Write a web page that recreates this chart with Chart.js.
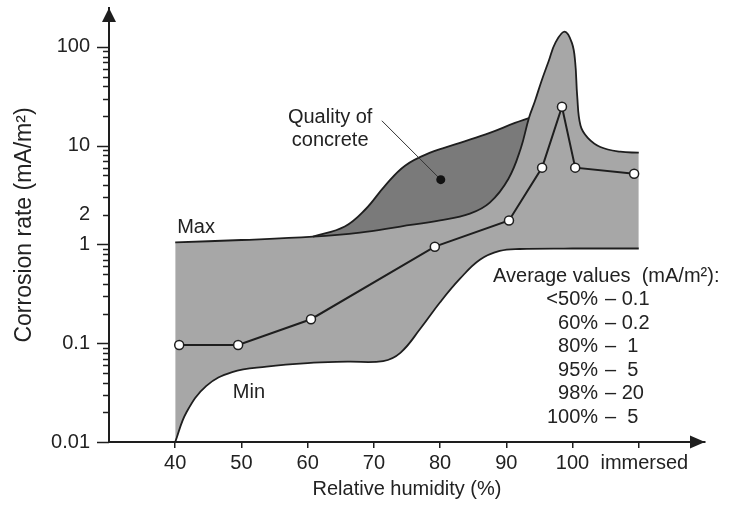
<!DOCTYPE html>
<html>
<head>
<meta charset="utf-8">
<script src="https://cdn.jsdelivr.net/npm/chart.js@4.4.1/dist/chart.umd.min.js"></script>
<style>
  html, body { margin: 0; padding: 0; background: #fff; }
  #wrap { width: 734px; height: 509px; }
</style>
</head>
<body>
<div id="wrap"><canvas id="chart" width="734" height="509"></canvas></div>
<script>
var humidityTicks = [40, 50, 60, 70, 80, 90, 100, 110];
var humidityLabels = ['40', '50', '60', '70', '80', '90', '100', '  immersed'];
var rateTicks = [0.01, 0.1, 1, 2, 10, 100];
var rateLabels = ['0.01', '0.1', '1', '2', '10', '100'];

// average values (open circles)
var avgHumidity = [40.6, 49.5, 60.5, 79.2, 90.4, 95.4, 98.4, 100.4, 109.3];
var avgRate = [0.096, 0.096, 0.175, 0.95, 1.75, 6.0, 24.8, 6.0, 5.2];

// upper envelope (Max), with the peak near saturation
var maxHumidity = [40, 50, 60.8, 67.9, 74, 80, 84.5, 87.5, 90.3, 92.2, 93.4, 94.3, 95.3, 96.4, 97.4, 98.8, 99.9, 100.4, 100.7, 101.2, 102.3, 104.2, 107.2, 110];
var maxRate = [1.05, 1.11, 1.2, 1.32, 1.52, 1.75, 2.05, 2.65, 4.6, 9.5, 19, 28, 45, 72, 110, 143, 110, 70, 32, 16, 12, 9.7, 8.7, 8.5];

// upper edge of the "quality of concrete" band
var qualityHumidity = [60.8, 65.6, 68.7, 71.7, 74.7, 78.5, 83, 87.5, 91.3, 93.4];
var qualityRate = [1.2, 1.52, 2.26, 3.95, 6.28, 8.5, 10.7, 13.5, 17, 19];

// lower envelope (Min)
var minHumidity = [40, 41.7, 44.7, 48.6, 53.8, 60, 66, 71.4, 74, 77, 80, 83, 86, 89, 92, 100, 110];
var minRate = [0.01, 0.02, 0.037, 0.051, 0.058, 0.063, 0.065, 0.066, 0.08, 0.14, 0.26, 0.45, 0.7, 0.86, 0.9, 0.91, 0.91];

var avgRows = ['<50%', '60%', '80%', '95%', '98%', '100%'];
var avgRowValues = ['\u2013 0.1', '\u2013 0.2', '\u2013  1', '\u2013  5', '\u2013 20', '\u2013  5'];

function pts(xs, ys) {
  return xs.map(function (x, i) { return { x: x, y: ys[i] }; });
}

var ink = '#1e1e1e';
var lightFill = '#a7a7a7';
var darkFill = '#7a7a7a';
var font = "'Liberation Sans', Arial, sans-serif";

Chart.defaults.font.family = font;
Chart.defaults.color = '#222';

var extras = {
  id: 'extras',
  afterDraw: function (chart) {
    var ctx = chart.ctx;
    var xs = chart.scales.x;
    var ys = chart.scales.y;
    var a = chart.chartArea;
    ctx.save();

    // y tick marks (major and minor)
    ctx.strokeStyle = ink;
    ctx.lineWidth = 1.5;
    ys.ticks.forEach(function (t) {
      var py = Math.round(ys.getPixelForValue(t.value)) + 0.5;
      var lg = Math.log10(t.value);
      var len = Math.abs(lg - Math.round(lg)) < 1e-6 ? 12 : 6;
      ctx.beginPath();
      ctx.moveTo(a.left - len, py);
      ctx.lineTo(a.left, py);
      ctx.stroke();
    });

    // arrow heads
    ctx.fillStyle = ink;
    ctx.beginPath();
    ctx.moveTo(a.left, a.top);
    ctx.lineTo(a.left - 7, a.top + 14);
    ctx.lineTo(a.left + 7, a.top + 14);
    ctx.closePath();
    ctx.fill();
    ctx.beginPath();
    ctx.moveTo(a.right, a.bottom);
    ctx.lineTo(a.right - 15, a.bottom - 6.5);
    ctx.lineTo(a.right - 15, a.bottom + 6.5);
    ctx.closePath();
    ctx.fill();

    // annotations
    ctx.font = '20px ' + font;
    ctx.fillStyle = '#222';
    ctx.textBaseline = 'middle';
    ctx.textAlign = 'center';
    ctx.fillText('Quality of', xs.getPixelForValue(63.4), ys.getPixelForValue(19.2));
    ctx.fillText('concrete', xs.getPixelForValue(63.4), ys.getPixelForValue(11.2));
    ctx.textAlign = 'left';
    ctx.fillText('Max', xs.getPixelForValue(40.3), ys.getPixelForValue(1.49));
    ctx.fillText('Min', xs.getPixelForValue(48.7), ys.getPixelForValue(0.032));

    ctx.strokeStyle = '#333';
    ctx.lineWidth = 1;
    ctx.beginPath();
    ctx.moveTo(xs.getPixelForValue(71.2), ys.getPixelForValue(17.9));
    ctx.lineTo(xs.getPixelForValue(80.1), ys.getPixelForValue(4.53));
    ctx.stroke();
    ctx.fillStyle = '#111';
    ctx.beginPath();
    ctx.arc(xs.getPixelForValue(80.1), ys.getPixelForValue(4.53), 4.5, 0, Math.PI * 2);
    ctx.fill();

    ctx.fillStyle = '#222';
    var hx = xs.getPixelForValue(88);
    var hy = ys.getPixelForValue(0.475);
    ctx.fillText('Average values  (mA/m\u00b2):', hx, hy);
    var pctRight = xs.getPixelForValue(103.85);
    avgRows.forEach(function (r, i) {
      var ry = hy + 23.5 * (i + 1);
      ctx.textAlign = 'right';
      ctx.fillText(r, pctRight, ry);
      ctx.textAlign = 'left';
      ctx.fillText(avgRowValues[i], pctRight + 7, ry);
    });
    ctx.restore();
  }
};

new Chart(document.getElementById('chart'), {
  type: 'scatter',
  data: {
    datasets: [
      {
        label: 'Average',
        data: pts(avgHumidity, avgRate),
        showLine: true,
        borderColor: ink,
        borderWidth: 2,
        pointRadius: 4.5,
        pointBackgroundColor: '#fff',
        pointBorderColor: ink,
        pointBorderWidth: 1.5,
        tension: 0,
        fill: false
      },
      {
        label: 'Quality of concrete',
        data: pts(qualityHumidity, qualityRate),
        showLine: true,
        borderColor: ink,
        borderWidth: 1.8,
        pointRadius: 0,
        tension: 0.4,
        backgroundColor: darkFill,
        fill: 2
      },
      {
        label: 'Max',
        data: pts(maxHumidity, maxRate),
        showLine: true,
        borderColor: ink,
        borderWidth: 1.8,
        pointRadius: 0,
        tension: 0.4,
        backgroundColor: lightFill,
        fill: 3
      },
      {
        label: 'Min',
        data: pts(minHumidity, minRate),
        showLine: true,
        borderColor: ink,
        borderWidth: 1.8,
        pointRadius: 0,
        tension: 0.4,
        fill: false
      }
    ]
  },
  options: {
    responsive: false,
    animation: false,
    layout: { padding: { left: 0, right: 29, top: 8, bottom: 0 } },
    plugins: {
      legend: { display: false },
      tooltip: { enabled: false },
      filler: { drawTime: 'beforeDatasetsDraw' }
    },
    scales: {
      x: {
        type: 'linear',
        min: 30,
        max: 120,
        afterBuildTicks: function (scale) {
          scale.ticks = humidityTicks.map(function (v) { return { value: v }; });
        },
        afterFit: function (scale) {
          scale.height = 67;
          scale.paddingLeft = 0;
          scale.paddingRight = 0;
        },
        ticks: {
          autoSkip: false,
          maxRotation: 0,
          padding: 3,
          font: { size: 20 },
          color: '#222',
          callback: function (value) {
            var i = humidityTicks.indexOf(value);
            return i >= 0 ? humidityLabels[i] : '';
          }
        },
        grid: { display: true, drawOnChartArea: false, drawTicks: true, tickLength: 6, color: ink, lineWidth: 1.5 },
        border: { display: true, color: ink, width: 2 },
        title: {
          display: true,
          text: 'Relative humidity (%)',
          font: { size: 20 },
          color: '#222',
          padding: { top: 0, bottom: 8 }
        }
      },
      y: {
        type: 'logarithmic',
        min: 0.01,
        max: 248,
        afterBuildTicks: function (scale) {
          var list = [];
          for (var e = -2; e <= 2; e++) {
            for (var m = 1; m <= 9; m++) {
              var v = m * Math.pow(10, e);
              if (v <= 100.0001) list.push({ value: v });
            }
          }
          scale.ticks = list;
        },
        afterFit: function (scale) {
          scale.width = 109;
          scale.paddingTop = 0;
          scale.paddingBottom = 0;
        },
        ticks: {
          autoSkip: false,
          padding: 19,
          font: { size: 20 },
          color: '#222',
          callback: function (value) {
            for (var i = 0; i < rateTicks.length; i++) {
              if (Math.abs(Math.log10(rateTicks[i]) - Math.log10(value)) < 1e-6) return rateLabels[i];
            }
            return '';
          }
        },
        grid: { display: false, drawTicks: false },
        border: { display: true, color: ink, width: 2 },
        title: {
          display: true,
          text: 'Corrosion rate (mA/m\u00b2)',
          font: { size: 23 },
          color: '#222',
          padding: { top: 11, bottom: 0 }
        }
      }
    }
  },
  plugins: [extras]
});
</script>
</body>
</html>
